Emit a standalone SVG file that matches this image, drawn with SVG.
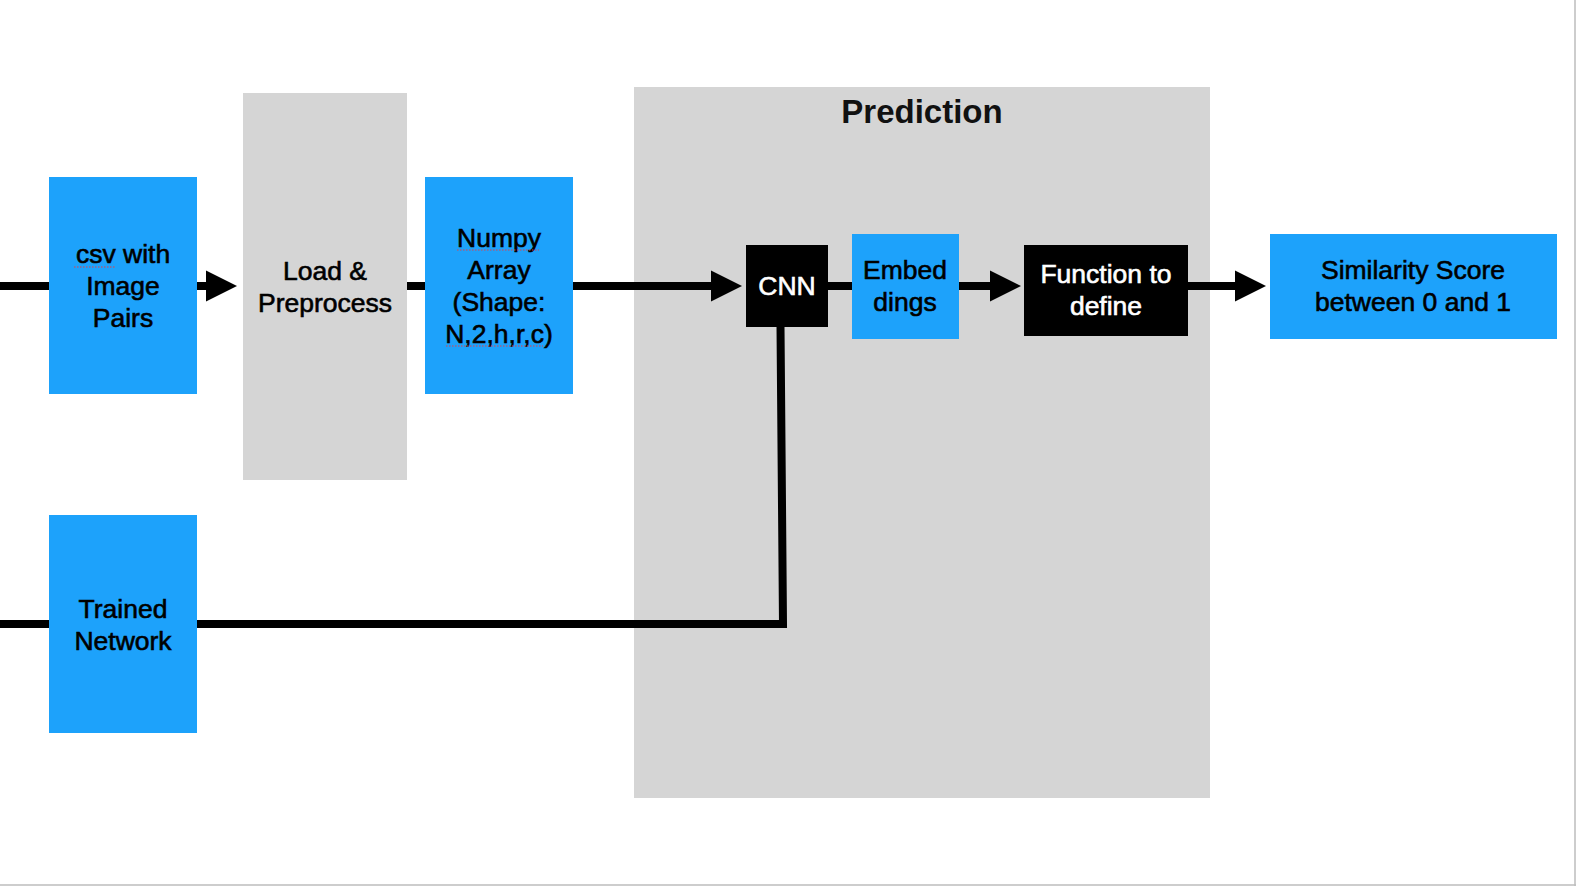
<svg xmlns="http://www.w3.org/2000/svg" width="1576" height="886" viewBox="0 0 1576 886">
<style>
.blue{fill:#1DA2FB}
.grey{fill:#D5D5D5}
.black{fill:#000}
.t{font-family:"Liberation Sans",Arial,Helvetica,sans-serif;font-size:26.5px;fill:#000;stroke:#000;stroke-width:0.6;text-anchor:middle}
.w{fill:#fff;stroke:#fff}
.title{font-family:"Liberation Sans",Arial,Helvetica,sans-serif;font-size:33px;font-weight:bold;fill:#111;text-anchor:middle}
.c{fill:none;stroke:#000;stroke-width:8;stroke-linejoin:miter}
.sq{fill:none;stroke:#E0404A;stroke-width:1.2;stroke-dasharray:1.5 1.5}
</style>
<defs>
<marker id="ah" markerUnits="userSpaceOnUse" markerWidth="32" markerHeight="32" refX="2" refY="15.5" orient="auto" overflow="visible">
<path d="M0,0 L31,15.5 L0,31 Z" fill="#000"/>
</marker>
</defs>
<rect width="1576" height="886" fill="#fff"/>
<line x1="1575" y1="0" x2="1575" y2="886" stroke="#BDBDBD" stroke-width="1.5"/>
<line x1="0" y1="885" x2="1576" y2="885" stroke="#BDBDBD" stroke-width="1.5"/>

<g id="prediction">
<rect class="grey" x="634" y="87" width="576" height="711"/>
<text class="title" x="922" y="123">Prediction</text>
</g>

<g id="connectors">
<path class="c" d="M0,286 H50"/>
<path class="c" d="M196,286 H208" marker-end="url(#ah)"/>
<path class="c" d="M406,286 H426"/>
<path class="c" d="M572,286 H713" marker-end="url(#ah)"/>
<path class="c" d="M827,286 H853"/>
<path class="c" d="M958,286 H992" marker-end="url(#ah)"/>
<path class="c" d="M1187,286 H1237" marker-end="url(#ah)"/>
<path class="c" d="M0,624 H50"/>
<path class="c" d="M196,624 H783 L780.5,326"/>
</g>

<g id="csv">
<rect class="blue" x="49" y="177" width="148" height="217"/>
<text class="t" x="123" y="263">csv with</text>
<text class="t" x="123" y="295">Image</text>
<text class="t" x="123" y="327">Pairs</text>
<path class="sq" d="M74,267 H115"/>
</g>

<g id="load">
<rect class="grey" x="243" y="93" width="164" height="387"/>
<text class="t" x="325" y="280">Load &amp;</text>
<text class="t" x="325" y="312">Preprocess</text>
</g>

<g id="numpy">
<rect class="blue" x="425" y="177" width="148" height="217"/>
<text class="t" x="499" y="247">Numpy</text>
<text class="t" x="499" y="279">Array</text>
<text class="t" x="499" y="311">(Shape:</text>
<text class="t" x="499" y="343">N,2,h,r,c)</text>
<path class="sq" d="M457,250 H539"/>
<path class="sq" d="M446,346 H543"/>
</g>

<g id="cnn">
<rect class="black" x="746" y="245" width="82" height="82"/>
<text class="t w" x="787" y="295">CNN</text>
</g>

<g id="embeddings">
<rect class="blue" x="852" y="234" width="107" height="105"/>
<text class="t" x="905" y="279">Embed</text>
<text class="t" x="905" y="311">dings</text>
</g>

<g id="function">
<rect class="black" x="1024" y="245" width="164" height="91"/>
<text class="t w" x="1106" y="283">Function to</text>
<text class="t w" x="1106" y="315">define</text>
</g>

<g id="similarity">
<rect class="blue" x="1270" y="234" width="287" height="105"/>
<text class="t" x="1413" y="279">Similarity Score</text>
<text class="t" x="1413" y="311">between 0 and 1</text>
</g>

<g id="trained">
<rect class="blue" x="49" y="515" width="148" height="218"/>
<text class="t" x="123" y="618">Trained</text>
<text class="t" x="123" y="650">Network</text>
</g>
</svg>
